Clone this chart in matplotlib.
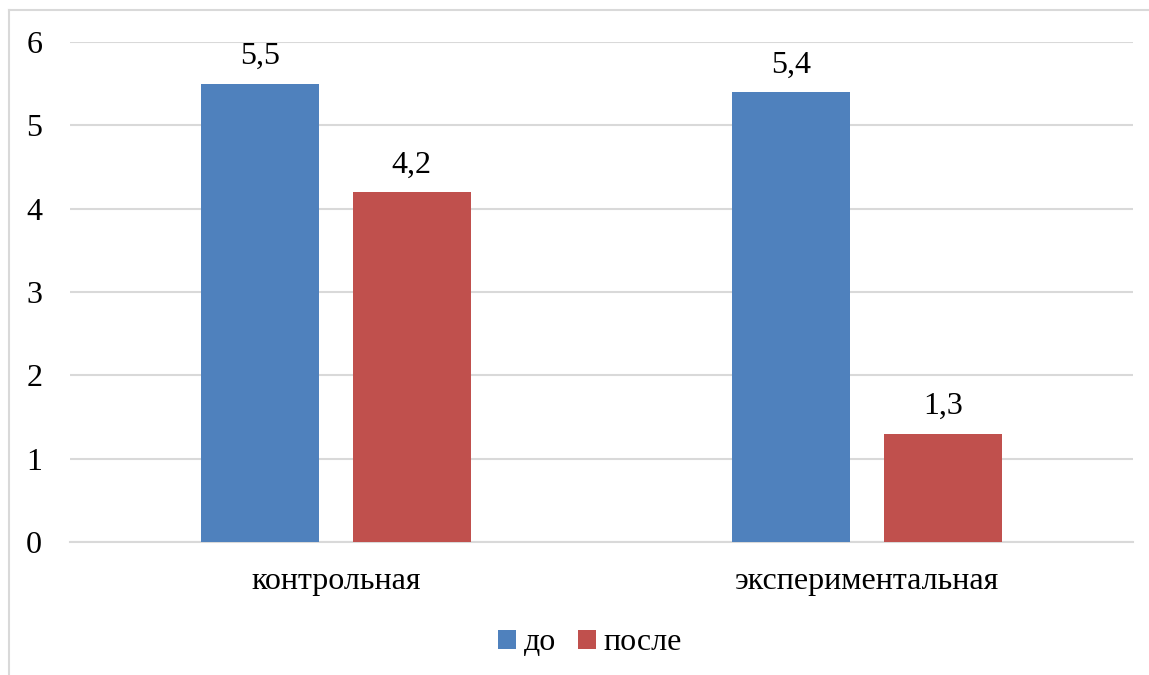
import matplotlib.pyplot as plt
import numpy as np
from matplotlib.lines import Line2D

plt.rcParams["font.family"] = ["Liberation Serif", "DejaVu Serif"]

groups = ["контрольная", "экспериментальная"]
series = ["до", "после"]
before = [5.5, 5.4]
after = [4.2, 1.3]
y_ticks = [0, 1, 2, 3, 4, 5, 6]

BLUE = "#4F81BD"
RED = "#C0504D"
GRID = "#D9D9D9"
FS = 23

fig = plt.figure(figsize=(11.49, 6.75), dpi=100)
ax = fig.add_axes([0.0609, 0.197, 0.9252, 0.7408])

x = np.arange(len(groups))
width = 0.222
offset = 0.143
bars_b = ax.bar(x - offset, before, width, color=BLUE, label=series[0], zorder=3)
bars_a = ax.bar(x + offset, after, width, color=RED, label=series[1], zorder=3)

for bars, vals in ((bars_b, before), (bars_a, after)):
    for b, v in zip(bars, vals):
        ax.annotate(f"{v:.1f}".replace(".", ","),
                    (b.get_x() + b.get_width() / 2, v),
                    xytext=(0, 9), textcoords="offset points",
                    ha="center", va="bottom", fontsize=FS)

ax.set_xlim(-0.5, 1.5)
ax.set_ylim(0, 6)
ax.set_yticks(y_ticks)
ax.set_xticks(x)
ax.set_xticklabels(groups)
ax.yaxis.grid(True, color=GRID, linewidth=1.5, zorder=0)
ax.tick_params(axis="both", length=0, labelsize=FS)
ax.tick_params(axis="y", pad=20)
ax.tick_params(axis="x", pad=18)
for side in ("top", "right", "left"):
    ax.spines[side].set_visible(False)
ax.spines["bottom"].set_color(GRID)
ax.spines["bottom"].set_linewidth(1.5)

handles, labels = ax.get_legend_handles_labels()
fig.legend(handles, labels, loc="center", bbox_to_anchor=(590 / 1149, 1 - 643 / 675),
           ncol=2, frameon=False, fontsize=FS, handlelength=0.55, handleheight=0.55,
           handletextpad=0.25, columnspacing=0.7)

# outer chart frame (left and top edges visible)
fig.add_artist(Line2D([9 / 1149, 9 / 1149], [0, 1 - 10 / 675], color=GRID,
                      linewidth=1.5, transform=fig.transFigure))
fig.add_artist(Line2D([9 / 1149, 1], [1 - 10 / 675, 1 - 10 / 675], color=GRID,
                      linewidth=1.5, transform=fig.transFigure))

fig.savefig("out.png", dpi=100, facecolor="white")
